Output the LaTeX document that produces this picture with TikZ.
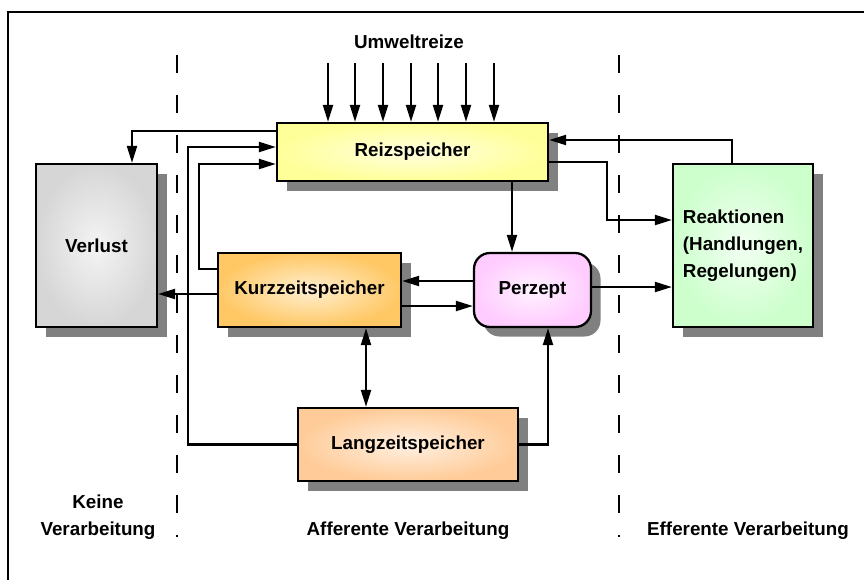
\documentclass[tikz,border=0pt]{standalone}
\usepackage{fontspec}
\setmainfont{Liberation Sans}
\usetikzlibrary{arrows.meta,shadows,calc}

\definecolor{shadowgray}{HTML}{808080}
\definecolor{reizout}{HTML}{FFFF99}
\definecolor{reizin}{HTML}{FFFFE0}
\definecolor{verlout}{HTML}{D6D6D6}
\definecolor{verlin}{HTML}{F4F4F4}
\definecolor{kurzout}{HTML}{FFC865}
\definecolor{kurzin}{HTML}{FFEFD0}
\definecolor{langout}{HTML}{FFCC99}
\definecolor{langin}{HTML}{FFF0E2}
\definecolor{perzout}{HTML}{FFCCFF}
\definecolor{perzin}{HTML}{FFF2FF}
\definecolor{reakout}{HTML}{CCFFCC}
\definecolor{reakin}{HTML}{F2FFF2}

\begin{document}
\begin{tikzpicture}[x=1pt,y=-1pt,
  lbl/.style={font=\bfseries\fontsize{18.8}{27}\selectfont, inner sep=0pt},
  box/.style={lbl, draw, line width=2.3pt, rectangle,
    drop shadow={shadow xshift=9.5pt, shadow yshift=-9.5pt, fill=shadowgray, opacity=1}},
  tip/.style={Triangle[length=17pt,width=10pt]},
  conn/.style={line width=2.2pt, -{Triangle[length=17pt,width=10pt]}},
  both/.style={line width=2.2pt, {Triangle[length=17pt,width=10pt]}-{Triangle[length=17pt,width=10pt]}},
  divider/.style={line width=2.3pt, dash pattern=on 18pt off 22pt}
]
\useasboundingbox (0,0) rectangle (864,579);
\clip (0,0) rectangle (864,579);

% outer frame (runs past the right and lower edge)
\draw[line width=2.6pt] (8,12) rectangle (890,610);

% dividing lines between the processing zones
\coordinate (d1t) at (177,55);
\coordinate (d1b) at (177,537);
\coordinate (d2t) at (619,55);
\coordinate (d2b) at (619,537);
\draw[divider] (d1t) -- (d1b);
\draw[divider] (d2t) -- (d2b);

% boxes
\node[box, minimum width=271pt, minimum height=58pt, inner color=reizin, outer color=reizout] (reiz) at (412.5,152) {Reizspeicher};
\node[box, minimum width=121pt, minimum height=163pt, inner color=verlin, outer color=verlout] (verlust) at (96.5,245.5) {Verlust};
\node[box, minimum width=183pt, minimum height=74pt, inner color=kurzin, outer color=kurzout] (kurz) at (309.5,290) {Kurzzeitspeicher};
\node[box, rounded corners=16pt, minimum width=117pt, minimum height=74pt, inner color=perzin, outer color=perzout] (perz) at (532.5,290) {Perzept};
\node[box, align=left, minimum width=140pt, minimum height=163pt, inner color=reakin, outer color=reakout] (reak) at (743,245.5) {Reaktionen\\(Handlungen,\\Regelungen)};
\node[box, minimum width=220pt, minimum height=73pt, inner color=langin, outer color=langout] (lang) at (408,444.5) {Langzeitspeicher};

% labels
\node[lbl] (umw) at (409,42) {Umweltreize};
\node[lbl, align=center] (keine) at (98,517) {Keine\\Verarbeitung};
\node[lbl] (aff) at (408,531) {Afferente Verarbeitung};
\node[lbl] (eff) at (748,531) {Efferente Verarbeitung};

% incoming stimuli
\foreach \i/\x in {1/328,2/355,3/383,4/411,5/438,6/466,7/494}{
  \coordinate (u\i) at (\x,63);
  \draw[conn] (u\i) -- (u\i |- reiz.north);
}

% Reizspeicher -> Verlust
\draw[conn] (reiz.west |- 0,131) -| (132,0 |- verlust.north);
% Langzeitspeicher -> Reizspeicher
\draw[conn] (lang.west) -| (188,147) -- (reiz.west |- 0,147);
% Kurzzeitspeicher -> Reizspeicher
\draw[conn] (kurz.west |- 0,269) -| (199,164) -- (reiz.west |- 0,164);
% Kurzzeitspeicher -> Verlust
\draw[conn] (kurz.west |- 0,294) -- (verlust.east |- 0,294);
% Perzept <-> Kurzzeitspeicher
\draw[conn] (perz.west |- 0,281) -- (kurz.east |- 0,281);
\draw[conn] (kurz.east |- 0,306) -- (perz.west |- 0,306);
% Reizspeicher -> Perzept
\draw[conn] (512,0 |- reiz.south) -- (512,0 |- perz.north);
% Perzept -> Reaktionen
\draw[conn] (perz.east |- 0,287) -- (reak.west |- 0,287);
% Reaktionen -> Reizspeicher
\draw[conn] (732,0 |- reak.north) |- (reiz.east |- 0,140);
% Reizspeicher -> Reaktionen
\draw[conn] (reiz.east |- 0,162) -| (607,220) -- (reak.west |- 0,220);
% Kurzzeitspeicher <-> Langzeitspeicher
\draw[both] (366,0 |- kurz.south) -- (366,0 |- lang.north);
% Langzeitspeicher -> Perzept
\draw[conn] (lang.east) -| (548,0 |- perz.south);
\end{tikzpicture}
\end{document}
